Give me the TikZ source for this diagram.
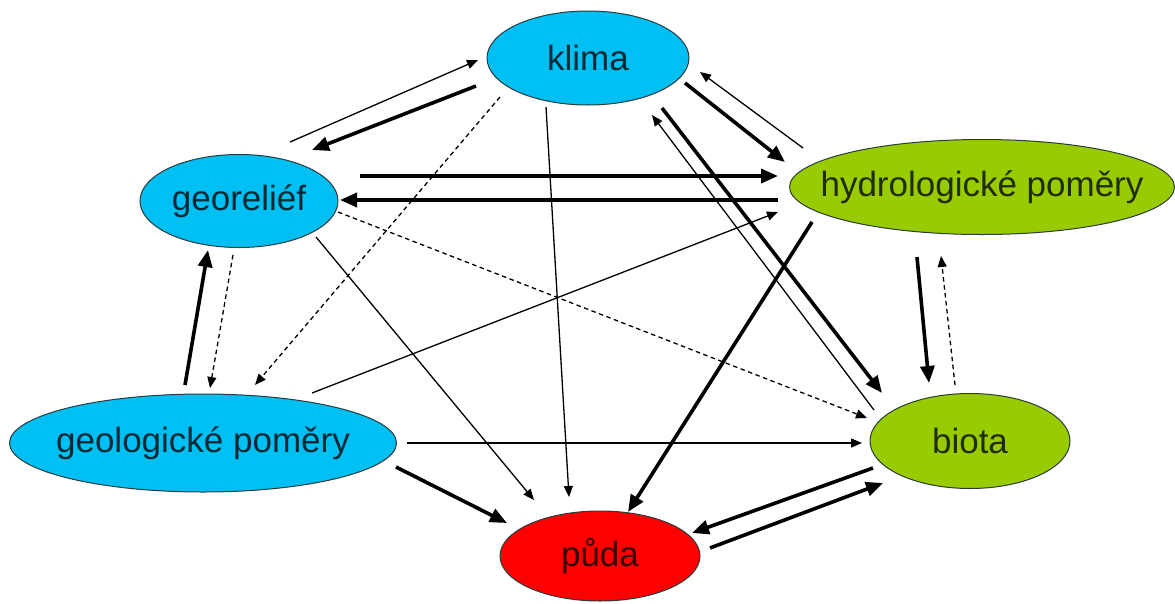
\documentclass[tikz,border=0pt]{standalone}
\usepackage{fontspec}
\setmainfont{Liberation Sans}
\usetikzlibrary{shapes.geometric,arrows.meta,calc}

\definecolor{Modra}{HTML}{00BFF3}
\definecolor{Zelena}{HTML}{99CC00}
\definecolor{Cervena}{HTML}{FF0000}
\definecolor{Okraj}{HTML}{2B3A3A}

\tikzset{
  elipsa/.style={ellipse, draw=Okraj, line width=1pt, inner sep=0pt},
  popis/.style={font=\fontsize{35}{40}\selectfont, text=black, text opacity=0.78},
  slaba/.style={line width=1.3pt, -{Triangle[length=11pt, width=9pt]}},
  silna/.style={line width=3.6pt, -{Triangle[length=17pt, width=14pt]}},
  carkovana/.style={line width=1.3pt, dash pattern=on 4.5pt off 3.5pt, -{Triangle[length=11pt, width=9pt]}},
}

\begin{document}
\begin{tikzpicture}[x=1pt, y=-1pt]

\useasboundingbox[fill=white] (0,0) rectangle (1175,603);

%%%%%%%%%% Elipsy %%%%%%%%%%

 \node[elipsa, fill=Modra, minimum width=202pt, minimum height=94pt, label={[popis]center:klima}] (klima) at (588,58) {};
 \node[elipsa, fill=Modra, minimum width=198pt, minimum height=93pt, label={[popis]center:georeliéf}] (georelief) at (239,201) {};
 \node[elipsa, fill=Zelena, minimum width=385pt, minimum height=95pt, label={[popis]center:hydrologické poměry}] (hydro) at (982,187) {};
 \node[elipsa, fill=Modra, minimum width=387pt, minimum height=98pt, label={[popis]center:geologické poměry}] (geol) at (203,443) {};
 \node[elipsa, fill=Zelena, minimum width=200pt, minimum height=95pt, label={[popis]center:biota}] (biota) at (970,441) {};
 \node[elipsa, fill=Cervena, minimum width=200pt, minimum height=90pt, label={[popis]center:půda}] (puda) at (600,556) {};

%%%%%%%%%% Vazby klimatu %%%%%%%%%%

 \draw[slaba] ($(georelief)+(51,-59)$) -- ($(klima)+(-110,2)$);
 \draw[silna] ($(klima)+(-112,28)$) -- ($(georelief)+(73,-51)$);
 \draw[carkovana] ($(klima)+(-88,39)$) -- ($(geol)+(52,-58)$);
 \draw[slaba] ($(klima)+(-42,49)$) -- ($(puda)+(-31,-59)$);
 \draw[silna] ($(klima)+(97,25)$) -- ($(hydro)+(-197,-25)$);
 \draw[slaba] ($(hydro)+(-179,-39)$) -- ($(klima)+(112,14)$);
 \draw[silna] ($(klima)+(74,50)$) -- ($(biota)+(-88,-48)$);
 \draw[slaba] ($(biota)+(-96,-31)$) -- ($(klima)+(64,57)$);

%%%%%%%%%% Vazby georeliefu %%%%%%%%%%

 \draw[silna] ($(georelief)+(121,-25)$) -- ($(hydro)+(-204,-11)$);
 \draw[silna] ($(hydro)+(-204,13)$) -- ($(georelief)+(101,-1)$);
 \draw[carkovana] ($(georelief)+(99,11)$) -- ($(biota)+(-103,-23)$);
 \draw[slaba] ($(georelief)+(77,36)$) -- ($(puda)+(-66,-56)$);
 \draw[silna] ($(geol)+(-18,-58)$) -- ($(georelief)+(-31,49)$);
 \draw[carkovana] ($(georelief)+(-6,54)$) -- ($(geol)+(7,-55)$);

%%%%%%%%%% Vazby geologie %%%%%%%%%%

 \draw[slaba] ($(geol)+(109,-50)$) -- ($(hydro)+(-204,25)$);
 \draw[slaba] ($(geol)+(204,0)$) -- ($(biota)+(-108,2)$);
 \draw[silna] ($(geol)+(193,24)$) -- ($(puda)+(-93,-33)$);

%%%%%%%%%% Hydrologie, biota a puda %%%%%%%%%%

 \draw[silna] ($(hydro)+(-170,35)$) -- ($(puda)+(28,-44)$);
 \draw[silna] ($(hydro)+(-65,70)$) -- ($(biota)+(-41,-58)$);
 \draw[carkovana] ($(biota)+(-15,-56)$) -- ($(hydro)+(-41,69)$);
 \draw[silna] ($(biota)+(-97,27)$) -- ($(puda)+(92,-23)$);
 \draw[silna] ($(puda)+(110,-8)$) -- ($(biota)+(-87,42)$);

\end{tikzpicture}
\end{document}
